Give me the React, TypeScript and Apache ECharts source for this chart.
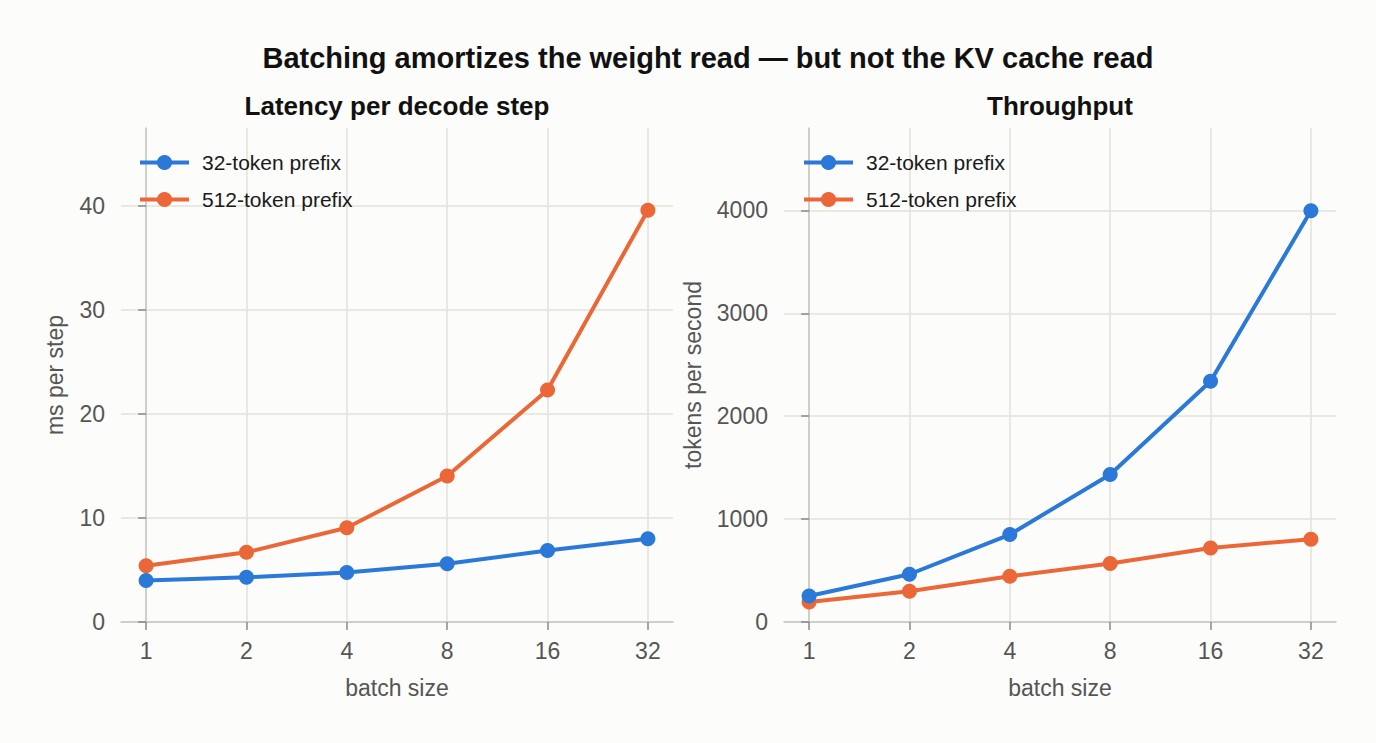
import React, { useEffect, useRef } from "react";
import * as echarts from "echarts";

const batchSizes = ["1", "2", "4", "8", "16", "32"];
const latency32 = [4.0, 4.3, 4.75, 5.6, 6.87, 8.0];
const latency512 = [5.4, 6.7, 9.06, 14.04, 22.3, 39.6];
const throughput32 = [253, 464, 850, 1434, 2340, 3995];
const throughput512 = [195, 299, 445, 568, 720, 805];
const seriesNames = ["32-token prefix", "512-token prefix"];

const BLUE = "#2a78d8";
const ORANGE = "#eb6737";
const FONT = "'Liberation Sans', Arial, Helvetica, sans-serif";

const toPairs = (vals: number[]) => vals.map((v, i) => [i, v]);
const idx = batchSizes.map((_, i) => i);

export default function App() {
  const ref = useRef<HTMLDivElement>(null);
  useEffect(() => {
    const chart = echarts.init(ref.current!, undefined, { renderer: "svg" });
    const gridW = 552;
    const gridH = 494;
    const grids = [
      { left: 121, top: 128, width: gridW, height: gridH },
      { left: 784, top: 128, width: gridW, height: gridH },
    ];
    const xAxisCommon = (gridIndex: number) => ({
      type: "value",
      gridIndex,
      min: -0.25,
      max: 5.25,
      name: "batch size",
      nameLocation: "middle",
      nameGap: 54,
      nameMoveOverlap: false,
      nameTextStyle: { fontSize: 23, color: "#555", fontFamily: FONT },
      axisLine: { show: true, lineStyle: { color: "#c6c6be", width: 1.5 } },
      axisTick: {
        show: true,
        length: 8,
        customValues: idx,
        lineStyle: { color: "#8a8a86", width: 1.5 },
      },
      axisLabel: {
        customValues: idx,
        margin: 17,
        fontSize: 23,
        color: "#555",
        fontFamily: FONT,
        formatter: (v: number) => batchSizes[Math.round(v)] ?? "",
      },
      splitLine: { show: true, lineStyle: { color: "#e3e3db", width: 1.5 } },
    });
    const yAxisCommon = (
      gridIndex: number,
      max: number,
      interval: number,
      name: string,
      nameGap: number
    ) => ({
      type: "value",
      gridIndex,
      min: 0,
      max,
      interval,
      name,
      nameLocation: "middle",
      nameGap,
      nameMoveOverlap: false,
      nameTextStyle: { fontSize: 23, color: "#555", fontFamily: FONT },
      axisLine: { show: true, lineStyle: { color: "#c6c6be", width: 1.5 } },
      axisTick: { show: true, length: 8, lineStyle: { color: "#8a8a86", width: 1.5 } },
      axisLabel: {
        margin: 16,
        fontSize: 23,
        color: "#555",
        fontFamily: FONT,
        showMaxLabel: false,
        formatter: (v: number) => (v === max ? "" : String(v)),
      },
      splitLine: {
        show: true,
        showMaxLine: false,
        lineStyle: { color: "#e3e3db", width: 1.5 },
      },
    });
    const lineSeries = (
      name: string,
      data: number[],
      color: string,
      axisIndex: number
    ) => ({
      type: "line",
      name,
      xAxisIndex: axisIndex,
      yAxisIndex: axisIndex,
      data: toPairs(data),
      symbol: "circle",
      symbolSize: 15,
      showSymbol: true,
      lineStyle: { color, width: 4 },
      itemStyle: { color },
      z: name === seriesNames[0] ? 3 : 2,
    });
    const legendCommon = (left: number, top: number) => ({
      orient: "vertical",
      left,
      top,
      itemWidth: 49,
      itemHeight: 19,
      itemGap: 16,
      lineStyle: { width: 4 },
      textStyle: {
        fontSize: 21,
        color: "#1a1a1a",
        fontFamily: FONT,
        padding: [0, 0, 0, 8],
      },
      data: seriesNames,
    });

    chart.setOption({
      animation: false,
      backgroundColor: "#fcfcfa",
      graphic: [
        {
          type: "text",
          x: 708,
          y: 58,
          style: {
            text: "Batching amortizes the weight read — but not the KV cache read",
            font: `bold 29px ${FONT}`,
            fill: "#111",
            textAlign: "center",
            textVerticalAlign: "middle",
          },
        },
        {
          type: "text",
          x: 397,
          y: 106,
          style: {
            text: "Latency per decode step",
            font: `bold 26px ${FONT}`,
            fill: "#111",
            textAlign: "center",
            textVerticalAlign: "middle",
          },
        },
        {
          type: "text",
          x: 1060,
          y: 106,
          style: {
            text: "Throughput",
            font: `bold 26px ${FONT}`,
            fill: "#111",
            textAlign: "center",
            textVerticalAlign: "middle",
          },
        },
      ],
      grid: grids,
      xAxis: [xAxisCommon(0), xAxisCommon(1)],
      yAxis: [
        yAxisCommon(0, 47.5, 10, "ms per step", 55),
        yAxisCommon(1, 4800, 1000, "tokens per second", 80),
      ],
      legend: [
        { ...legendCommon(133, 147) },
        { ...legendCommon(797, 147) },
      ],
      series: [
        lineSeries(seriesNames[0], latency32, BLUE, 0),
        lineSeries(seriesNames[1], latency512, ORANGE, 0),
        lineSeries(seriesNames[0], throughput32, BLUE, 1),
        lineSeries(seriesNames[1], throughput512, ORANGE, 1),
      ],
    });
    return () => chart.dispose();
  }, []);
  return (
    <div
      ref={ref}
      style={{ position: "fixed", left: 0, top: 0, width: 1376, height: 743 }}
    />
  );
}
